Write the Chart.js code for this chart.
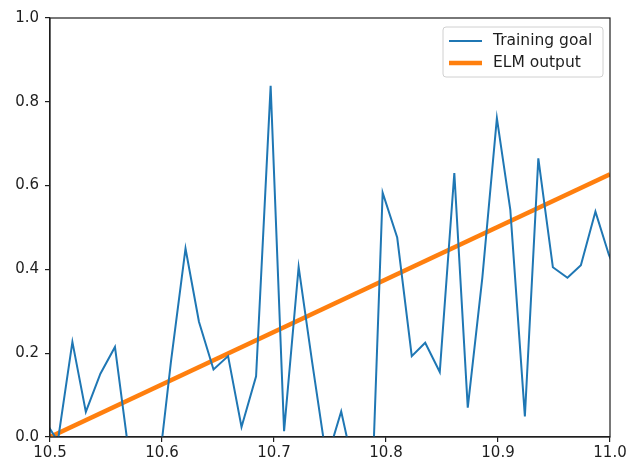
<!DOCTYPE html>
<html>
<head>
<meta charset="utf-8">
<script src="https://cdn.jsdelivr.net/npm/chart.js@4/dist/chart.umd.min.js"></script>
<style>
  html, body { margin: 0; padding: 0; background: #fff; }
  #chart { display: block; }
</style>
</head>
<body>
<canvas id="chart" width="629" height="463"></canvas>
<script>
// data
const goalX = [10.495, 10.507, 10.520, 10.532, 10.545, 10.558, 10.570, 10.583, 10.596, 10.608,
  10.621, 10.633, 10.646, 10.659, 10.671, 10.684, 10.697, 10.709, 10.722, 10.734,
  10.747, 10.760, 10.772, 10.785, 10.797, 10.810, 10.823, 10.835, 10.848, 10.861,
  10.873, 10.886, 10.899, 10.911, 10.924, 10.936, 10.949, 10.962, 10.974, 10.987,
  10.999, 11.012];
const goalY = [0.04, -0.01, 0.227, 0.06, 0.151, 0.215, -0.03, -0.15, -0.10, 0.18,
  0.450, 0.275, 0.161, 0.193, 0.024, 0.145, 0.838, 0.014, 0.406, 0.18,
  -0.055, 0.061, -0.085, -0.32, 0.583, 0.476, 0.193, 0.225, 0.155, 0.630,
  0.070, 0.38, 0.761, 0.542, 0.049, 0.665, 0.405, 0.380, 0.410, 0.538,
  0.435, 0.35];
const elmX = [10.5, 11.0];
const elmY = [0.0, 0.627];
const xTicks = [10.5, 10.6, 10.7, 10.8, 10.9, 11.0];
const yTicks = [0.0, 0.2, 0.4, 0.6, 0.8, 1.0];

const FONT = "'DejaVu Sans', sans-serif";
const INK = "#1e1e1e";

const toPoints = (xs, ys) => xs.map((x, i) => ({ x, y: ys[i] }));

// frame on all four sides + matplotlib style legend inside the plot
const framePlugin = {
  id: "frame",
  afterDatasetsDraw(chart) {
    const { ctx, chartArea: a } = chart;
    ctx.save();
    ctx.strokeStyle = INK;
    ctx.lineWidth = 1.2;
    ctx.strokeRect(a.left, a.top, a.right - a.left, a.bottom - a.top);

    // legend
    const bw = 160, bh = 50;
    const bx = a.right - 7 - bw, by = a.top + 9;
    ctx.beginPath();
    ctx.roundRect(bx, by, bw, bh, 3);
    ctx.fillStyle = "rgba(255,255,255,0.85)";
    ctx.fill();
    ctx.strokeStyle = "#d0d0d0";
    ctx.lineWidth = 1;
    ctx.stroke();

    ctx.font = "15.5px " + FONT;
    ctx.textBaseline = "middle";
    ctx.textAlign = "left";
    chart.data.datasets.forEach((ds, i) => {
      const yy = by + 14 + i * 22;
      ctx.beginPath();
      ctx.moveTo(bx + 6, yy);
      ctx.lineTo(bx + 39, yy);
      ctx.strokeStyle = ds.borderColor;
      ctx.lineWidth = ds.borderWidth;
      ctx.stroke();
      ctx.fillStyle = INK;
      ctx.fillText(ds.label, bx + 50, yy);
    });
    ctx.restore();
  }
};

new Chart(document.getElementById("chart"), {
  type: "line",
  data: {
    datasets: [
      { label: "Training goal", data: toPoints(goalX, goalY), borderColor: "#1f77b4", borderWidth: 2, pointRadius: 0, tension: 0, clip: 0 },
      { label: "ELM output", data: toPoints(elmX, elmY), borderColor: "#ff7f0e", borderWidth: 4.5, pointRadius: 0, tension: 0, clip: 0 }
    ]
  },
  options: {
    responsive: false,
    animation: false,
    devicePixelRatio: 1,
    layout: { padding: { top: 18, right: 19, left: 0, bottom: 0 } },
    plugins: { legend: { display: false }, tooltip: { enabled: false } },
    scales: {
      x: {
        type: "linear",
        min: 10.5, max: 11.0,
        afterFit: s => { s.height = 26; },
        afterBuildTicks: s => { s.ticks = xTicks.map(v => ({ value: v })); },
        ticks: { color: INK, font: { family: FONT, size: 15 }, padding: 2, maxRotation: 0, callback: v => v.toFixed(1) },
        grid: { drawOnChartArea: false, drawTicks: true, tickLength: 5, color: INK, lineWidth: 1.2 },
        border: { display: true, color: INK, width: 1.2 }
      },
      y: {
        min: 0, max: 1.0,
        afterFit: s => { s.width = 50; },
        afterBuildTicks: s => { s.ticks = yTicks.map(v => ({ value: v })); },
        ticks: { color: INK, font: { family: FONT, size: 15 }, padding: 6, callback: v => v.toFixed(1) },
        grid: { drawOnChartArea: false, drawTicks: true, tickLength: 5, color: INK, lineWidth: 1.2 },
        border: { display: true, color: INK, width: 1.2 }
      }
    }
  },
  plugins: [framePlugin]
});
</script>
</body>
</html>
